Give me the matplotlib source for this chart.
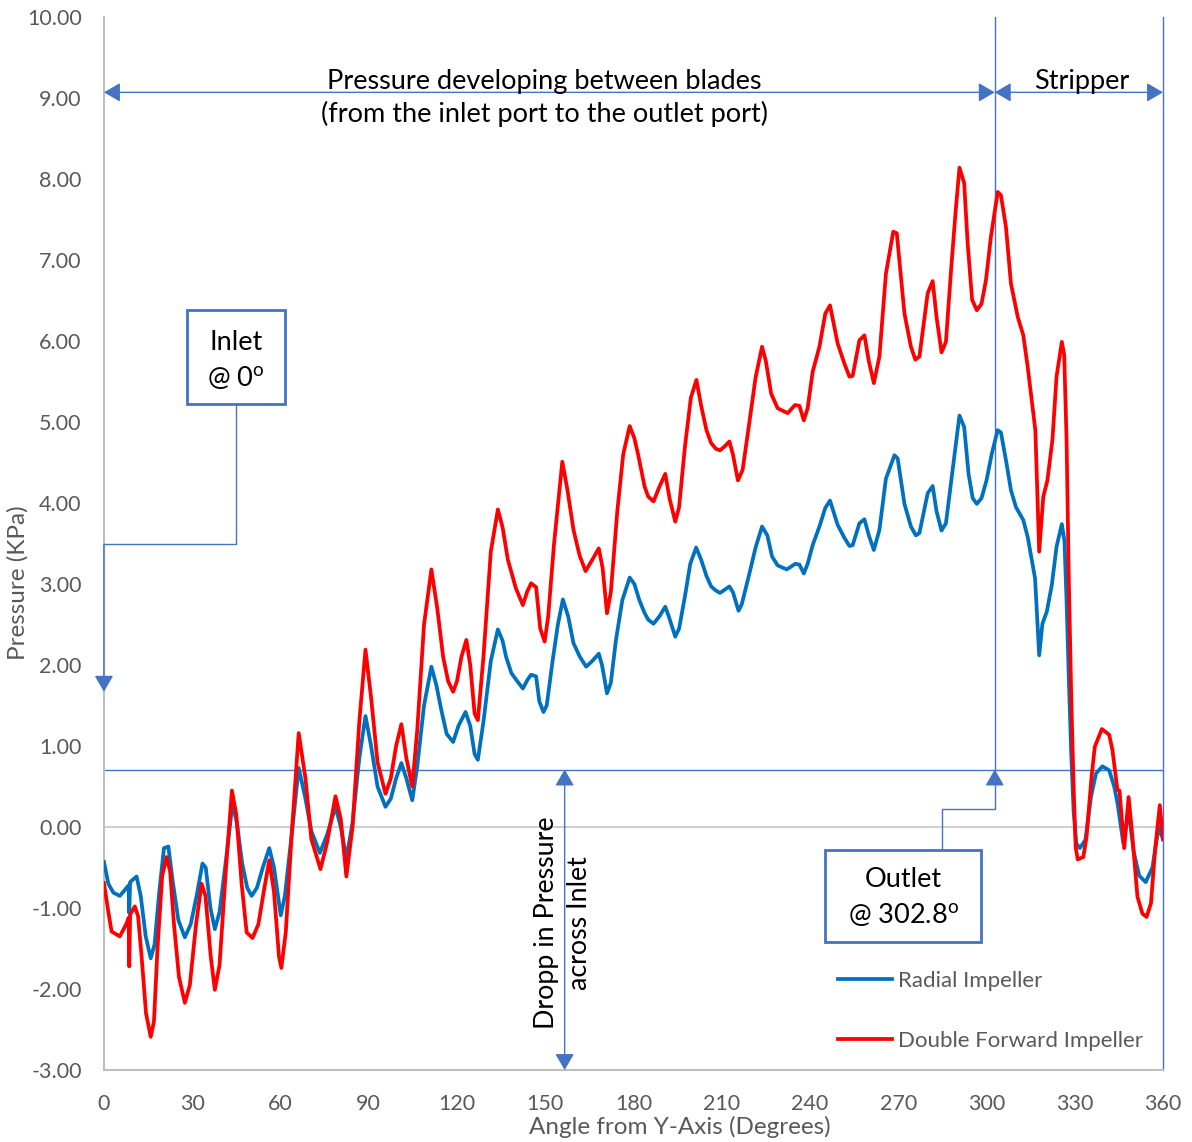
import matplotlib
matplotlib.use("Agg")
import matplotlib.pyplot as plt
from matplotlib.patches import Rectangle

plt.rcParams['font.family'] = ['Lato', 'DejaVu Sans']
plt.rcParams['axes.unicode_minus'] = False

# Radial impeller (blue) - angle in degrees, pressure in kPa
radial_deg = [0, 1.5, 3.2, 5.4, 7.7, 8.4, 8.6, 8.9, 9.8, 11.1, 12.5, 14.2, 15.9, 17.2, 18.8,
              20.4, 21.9, 23.3, 25.3, 27.5, 29.5, 31.5, 33.5, 34.6, 36.2, 37.7, 39.3, 41.5,
              43.7, 45.2, 47.0, 48.7, 50.2, 52.0, 54.0, 56.2, 57.8, 60.1, 61.5, 63.8, 66.2,
              68.5, 70.5, 73.4, 75.8, 78.7, 80.5, 82.4, 84.5, 86.8, 88.9, 90.8, 93.0, 95.7,
              97.5, 99.3, 101.1, 102.8, 104.8, 106.5, 108.8, 111.3, 113.0, 114.7, 116.5,
              118.7, 120.5, 122.9, 124.5, 126.0, 127.1, 129.0, 131.5, 133.9, 135.5, 136.7,
              138.5, 140.5, 142.4, 144.0, 145.2, 146.9, 148.0, 149.4, 150.5, 152.5, 154.3,
              156.0, 157.8, 159.6, 161.8, 163.9, 166.0, 168.2, 169.3, 171.0, 172.3, 174.0,
              176.2, 178.7, 180.3, 182.0, 183.8, 185.0, 186.8, 188.8, 190.8, 192.0, 194.2,
              195.5, 197.5, 199.3, 201.3, 203.0, 204.8, 206.4, 208.0, 209.4, 211.0, 212.6,
              213.8, 215.7, 216.8, 219.4, 221.5, 223.7, 225.5, 227.1, 229.0, 232.1, 235.0,
              236.4, 237.9, 239.2, 240.9, 243.2, 245.2, 246.8, 249.4, 251.7, 253.4, 254.5,
              256.8, 258.5, 260.0, 261.7, 263.6, 265.8, 268.7, 269.8, 272.1, 274.3, 276.0,
              277.2, 280.0, 281.7, 283.0, 284.7, 286.2, 288.5, 290.8, 292.4, 293.9, 295.3,
              296.7, 298.3, 300.0, 301.8, 303.8, 304.9, 306.6, 308.3, 310.0, 312.5, 314.0,
              316.5, 317.9, 319.0, 320.5, 322.2, 323.8, 325.6, 326.5, 327.2, 328.0, 328.8,
              329.6, 330.5, 331.7, 333.6, 335.5, 337.2, 339.4, 341.7, 343.4, 344.5, 346.5,
              348.3, 350.0, 351.9, 354.1, 356.4, 358.5, 360]
radial_kpa = [-0.43, -0.70, -0.81, -0.85, -0.75, -0.72, -1.06, -0.68, -0.65, -0.61, -0.85, -1.35,
              -1.62, -1.45, -0.80, -0.26, -0.24, -0.65, -1.15, -1.36, -1.20, -0.85, -0.45, -0.50,
              -1.00, -1.26, -1.05, -0.40, 0.29, 0.05, -0.45, -0.75, -0.85, -0.75, -0.50, -0.26,
              -0.50, -1.09, -0.85, -0.10, 0.73, 0.35, -0.05, -0.32, -0.10, 0.25, 0.00, -0.39,
              0.05, 0.85, 1.37, 1.00, 0.50, 0.25, 0.35, 0.60, 0.79, 0.60, 0.33, 0.75, 1.50,
              1.98, 1.75, 1.44, 1.15, 1.05, 1.25, 1.42, 1.25, 0.90, 0.83, 1.30, 2.05, 2.44,
              2.30, 2.10, 1.90, 1.80, 1.71, 1.82, 1.88, 1.86, 1.55, 1.42, 1.50, 2.05, 2.50,
              2.81, 2.60, 2.27, 2.10, 1.98, 2.05, 2.14, 2.00, 1.65, 1.78, 2.30, 2.80, 3.08,
              3.00, 2.80, 2.64, 2.56, 2.51, 2.60, 2.72, 2.60, 2.35, 2.45, 2.85, 3.25, 3.45,
              3.30, 3.10, 2.97, 2.92, 2.89, 2.93, 2.97, 2.90, 2.67, 2.75, 3.13, 3.45, 3.71,
              3.60, 3.34, 3.23, 3.18, 3.25, 3.24, 3.13, 3.25, 3.48, 3.71, 3.94, 4.03, 3.73,
              3.57, 3.47, 3.48, 3.75, 3.80, 3.60, 3.42, 3.67, 4.30, 4.59, 4.55, 3.99, 3.71,
              3.60, 3.63, 4.12, 4.21, 3.90, 3.66, 3.75, 4.41, 5.08, 4.94, 4.36, 4.06, 3.99,
              4.06, 4.28, 4.61, 4.90, 4.87, 4.53, 4.16, 3.95, 3.79, 3.58, 3.07, 2.12, 2.51,
              2.66, 2.99, 3.46, 3.74, 3.53, 2.80, 1.80, 0.90, 0.20, -0.20, -0.26, -0.16, 0.37,
              0.66, 0.75, 0.70, 0.50, 0.30, -0.20, 0.20, -0.30, -0.60, -0.68, -0.50, 0.00,
              -0.15]

# Double forward impeller (red)
forward_deg = [0, 1.5, 2.6, 4.0, 5.4, 7.7, 8.4, 8.6, 8.9, 10.5, 11.6, 12.8, 14.3, 15.9, 17.0,
               18.2, 19.8, 21.3, 22.5, 23.8, 25.5, 27.5, 29.2, 31.3, 33.2, 34.5, 36.3, 37.7,
               39.3, 41.5, 43.5, 45.0, 46.8, 48.5, 50.5, 52.5, 54.3, 56.2, 57.8, 59.5, 60.3,
               61.8, 63.8, 66.2, 68.5, 70.5, 73.6, 75.8, 78.7, 80.5, 82.4, 84.5, 86.8, 88.9,
               90.8, 93.0, 95.7, 97.5, 99.3, 101.1, 102.8, 104.8, 106.5, 108.8, 111.3, 113.3,
               115.3, 117.0, 118.7, 120.0, 121.5, 123.2, 124.5, 126.0, 127.1, 129.0, 131.5,
               133.9, 135.5, 137.3, 140.0, 142.4, 143.8, 145.2, 146.9, 148.3, 149.8, 151.0,
               153.0, 155.8, 157.6, 159.6, 161.7, 163.7, 166.0, 168.2, 169.5, 171.0, 172.3,
               174.5, 176.5, 178.7, 180.3, 181.5, 183.8, 185.0, 186.8, 188.8, 190.8, 192.3,
               194.2, 195.5, 197.5, 199.5, 201.4, 203.0, 204.8, 206.4, 208.0, 209.4, 211.0,
               212.6, 213.8, 215.5, 217.1, 219.4, 221.5, 223.7, 225.0, 226.8, 229.0, 232.4,
               234.9, 236.4, 237.9, 239.2, 240.9, 243.2, 245.2, 246.8, 249.4, 251.7, 253.4,
               254.5, 256.8, 258.5, 260.0, 261.7, 263.6, 265.8, 268.3, 269.5, 272.1, 274.3,
               275.8, 277.2, 280.0, 281.7, 283.0, 284.7, 286.2, 288.0, 289.5, 290.8, 292.4,
               293.6, 295.1, 296.7, 298.3, 299.8, 301.5, 303.8, 304.9, 306.6, 308.3, 310.6,
               312.5, 314.0, 316.6, 317.9, 319.3, 320.7, 322.4, 323.8, 325.6, 326.4, 327.2,
               328.0, 328.8, 329.6, 330.3, 331.0, 332.9, 334.0, 335.7, 336.8, 339.2, 341.7,
               342.8, 344.5, 345.2, 346.8, 348.3, 349.6, 351.3, 353.0, 354.4, 355.9, 357.3,
               358.9, 360]
forward_kpa = [-0.69, -1.05, -1.29, -1.32, -1.35, -1.19, -1.12, -1.72, -1.08, -0.98, -1.10, -1.60,
               -2.30, -2.59, -2.40, -1.50, -0.60, -0.37, -0.55, -1.20, -1.85, -2.17, -1.95, -1.20,
               -0.70, -0.85, -1.60, -2.01, -1.70, -0.50, 0.45, 0.15, -0.70, -1.30, -1.37, -1.20,
               -0.80, -0.41, -0.80, -1.60, -1.74, -1.30, -0.10, 1.16, 0.60, -0.15, -0.52, -0.20,
               0.38, 0.10, -0.61, 0.00, 1.30, 2.19, 1.60, 0.80, 0.41, 0.60, 1.00, 1.27, 0.85,
               0.50, 1.20, 2.50, 3.18, 2.70, 2.10, 1.80, 1.67, 1.80, 2.10, 2.31, 2.00, 1.40,
               1.32, 2.10, 3.40, 3.92, 3.70, 3.30, 2.95, 2.74, 2.90, 3.01, 2.96, 2.45, 2.29,
               2.60, 3.50, 4.51, 4.15, 3.67, 3.35, 3.16, 3.30, 3.44, 3.20, 2.64, 2.90, 3.90,
               4.60, 4.95, 4.80, 4.61, 4.20, 4.08, 4.02, 4.20, 4.36, 4.05, 3.77, 3.95, 4.70,
               5.30, 5.52, 5.20, 4.90, 4.74, 4.67, 4.65, 4.70, 4.76, 4.60, 4.28, 4.41, 5.00,
               5.55, 5.93, 5.75, 5.35, 5.17, 5.11, 5.21, 5.20, 5.02, 5.17, 5.62, 5.93, 6.34,
               6.44, 5.97, 5.72, 5.56, 5.57, 6.01, 6.07, 5.75, 5.48, 5.81, 6.83, 7.35, 7.33,
               6.34, 5.93, 5.77, 5.81, 6.59, 6.74, 6.30, 5.86, 5.99, 6.90, 7.60, 8.14, 7.95,
               7.20, 6.51, 6.38, 6.46, 6.75, 7.29, 7.84, 7.80, 7.41, 6.71, 6.30, 6.07, 5.68,
               4.90, 3.40, 4.08, 4.28, 4.78, 5.56, 5.99, 5.83, 4.80, 3.00, 1.60, 0.50, -0.25,
               -0.40, -0.37, -0.12, 0.62, 0.99, 1.21, 1.14, 0.95, 0.46, 0.45, -0.26, 0.37,
               -0.12, -0.86, -1.07, -1.11, -0.94, -0.28, 0.27, -0.15]

y_ticks = [-3, -2, -1, 0, 1, 2, 3, 4, 5, 6, 7, 8, 9, 10]
x_ticks = [0, 30, 60, 90, 120, 150, 180, 210, 240, 270, 300, 330, 360]

outlet_deg = 302.8
drop_level = 0.71
span_y = 9.07
drop_x = 156.6

ann = '#4472C4'
grey_txt = '#595959'
head = '<|-|>,head_length=0.5,head_width=0.29'
one_head = '-|>,head_length=0.5,head_width=0.29'
big = 19.5

fig = plt.figure(figsize=(11.92, 11.42), dpi=100)
ax = fig.add_axes([0.0872, 0.0630, 0.8885, 0.9221])

ax.plot(radial_deg, radial_kpa, color='#0070C0', lw=2.7, label='Radial Impeller',
        solid_joinstyle='round', zorder=4)
ax.plot(forward_deg, forward_kpa, color='#FF0000', lw=2.7, label='Double Forward Impeller',
        solid_joinstyle='round', zorder=5)

ax.set_xlim(0, 360)
ax.set_ylim(-3, 10)
ax.set_xticks(x_ticks)
ax.set_yticks(y_ticks)
ax.set_yticklabels(['%.2f' % v for v in y_ticks])
ax.tick_params(length=0, labelsize=15.5, labelcolor=grey_txt)
ax.tick_params(axis='y', pad=16)
ax.tick_params(axis='x', pad=17)
for s in ['top', 'right']:
    ax.spines[s].set_visible(False)
for s in ['left', 'bottom']:
    ax.spines[s].set_color('#BFBFBF')
    ax.spines[s].set_linewidth(1.5)
ax.axhline(0, color='#D0D0D0', lw=1.5, zorder=1)

fig.text(18 / 1192, 1 - 583 / 1142, 'Pressure (KPa)', rotation=90, ha='center', va='center',
         fontsize=17.5, color=grey_txt)
fig.text(680 / 1192, 1 - 1127 / 1142, 'Angle from Y-Axis (Degrees)', ha='center', va='center',
         fontsize=17.5, color=grey_txt)

# guide lines
ax.axhline(drop_level, color=ann, lw=1, zorder=2)
ax.plot([outlet_deg, outlet_deg], [10, drop_level], color=ann, lw=1, zorder=2)
ax.plot([360, 360], [10, -3], color=ann, lw=1, zorder=2, clip_on=False)

# span arrows across the top
ax.annotate('', xy=(0, span_y), xytext=(outlet_deg, span_y),
            arrowprops=dict(arrowstyle=head, color=ann, lw=1, shrinkA=0, shrinkB=0, mutation_scale=20))
ax.annotate('', xy=(outlet_deg, span_y), xytext=(360, span_y),
            arrowprops=dict(arrowstyle=head, color=ann, lw=1, shrinkA=0, shrinkB=0, mutation_scale=20),
            annotation_clip=False)
ax.text(149.8, 9.21, 'Pressure developing between blades', ha='center', va='center', fontsize=big)
ax.text(149.8, 8.80, '(from the inlet port to the outlet port)', ha='center', va='center', fontsize=big)
ax.text(332.5, 9.21, 'Stripper', ha='center', va='center', fontsize=big)

# drop in pressure across inlet
ax.annotate('', xy=(drop_x, drop_level), xytext=(drop_x, -3),
            arrowprops=dict(arrowstyle=head, color=ann, lw=1, shrinkA=0, shrinkB=0, mutation_scale=20))
ax.text(drop_x - 0.4, -1.18, 'Dropp in Pressure\nacross Inlet', rotation=90, ha='center', va='center',
        fontsize=19.3, linespacing=1.4, multialignment='center')

# inlet callout
ax.add_patch(Rectangle((28.2, 5.22), 33.3, 1.16, fill=False, ec=ann, lw=2, zorder=6))
ax.text(44.8, 5.98, 'Inlet', ha='center', va='center', fontsize=big, zorder=7)
ax.text(44.8, 5.54, r'@ 0$^\mathregular{o}$', ha='center', va='center', fontsize=big, zorder=7)
ax.plot([44.8, 44.8, 0], [5.22, 3.49, 3.49], color=ann, lw=1, clip_on=False, zorder=6)
ax.annotate('', xy=(0, 1.67), xytext=(0, 3.49),
            arrowprops=dict(arrowstyle=one_head, color=ann, lw=1, shrinkA=0, shrinkB=0, mutation_scale=20),
            annotation_clip=False, zorder=6)

# outlet callout
ax.add_patch(Rectangle((245.2, -1.42), 53.0, 1.14, fill=False, ec=ann, lw=2, zorder=6))
ax.text(271.7, -0.65, 'Outlet', ha='center', va='center', fontsize=big, zorder=7)
ax.text(271.7, -1.09, r'@ 302.8$^\mathregular{o}$', ha='center', va='center', fontsize=big, zorder=7)
ax.plot([285.0, 285.0, outlet_deg, outlet_deg], [-0.28, 0.22, 0.22, 0.53], color=ann, lw=1, zorder=6)
ax.annotate('', xy=(outlet_deg, drop_level), xytext=(outlet_deg, 0.53),
            arrowprops=dict(arrowstyle=one_head, color=ann, lw=1, shrinkA=0, shrinkB=0, mutation_scale=20),
            zorder=6)

leg = ax.legend(loc='center left', bbox_to_anchor=(0.693, 0.056), frameon=False, fontsize=16,
                handlelength=2.45, handletextpad=0.25, labelspacing=1.8, borderpad=0, borderaxespad=0)
for t in leg.get_texts():
    t.set_color(grey_txt)

fig.savefig('out.png', dpi=100)
